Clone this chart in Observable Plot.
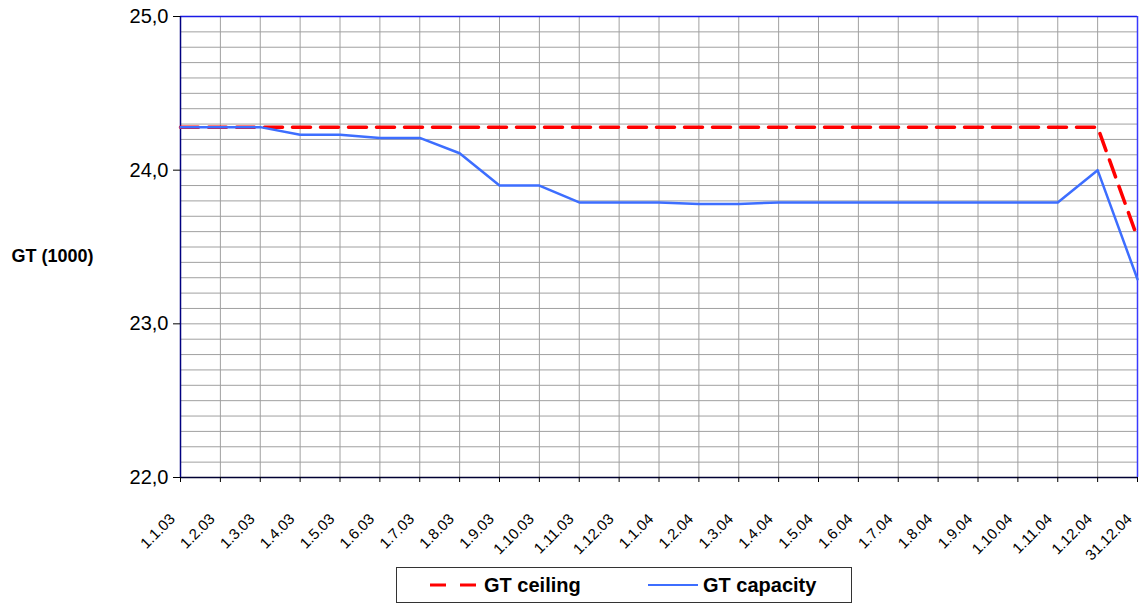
<!DOCTYPE html>
<html>
<head>
<meta charset="utf-8">
<script src="https://cdn.jsdelivr.net/npm/d3@7"></script>
<script src="https://cdn.jsdelivr.net/npm/@observablehq/plot@0.6"></script>
<style>
  html, body { margin: 0; background: #fff; overflow: hidden; font-family: "Liberation Sans", Arial, sans-serif; }
  #chart { width: 1148px; height: 604px; position: relative; }
  #chart > svg { position: absolute; left: 0; top: 0; max-width: none !important; overflow: visible; }
  .legend { position: absolute; left: 396px; top: 567px; width: 456px; height: 36px; border: 1px solid #333; box-sizing: border-box; font-weight: bold; font-size: 20px; color: #000; background: #fff; }
  .item { display: flex; align-items: center; position: absolute; top: 5px; height: 24px; }
  .item svg { display: block; }
</style>
</head>
<body>
<div id="chart"></div>
<script>
const dates = ["1.1.03","1.2.03","1.3.03","1.4.03","1.5.03","1.6.03","1.7.03","1.8.03","1.9.03","1.10.03","1.11.03","1.12.03","1.1.04","1.2.04","1.3.04","1.4.04","1.5.04","1.6.04","1.7.04","1.8.04","1.9.04","1.10.04","1.11.04","1.12.04","31.12.04"];
const ceiling = [24.28,24.28,24.28,24.28,24.28,24.28,24.28,24.28,24.28,24.28,24.28,24.28,24.28,24.28,24.28,24.28,24.28,24.28,24.28,24.28,24.28,24.28,24.28,24.28,23.56];
const capacity = [24.28,24.28,24.28,24.23,24.23,24.21,24.21,24.11,23.9,23.9,23.79,23.79,23.79,23.78,23.78,23.79,23.79,23.79,23.79,23.79,23.79,23.79,23.79,24.0,23.29];
const yMajor = [22, 23, 24, 25];
const yMinor = d3.range(220, 251).map(v => v / 10);
const idx = dates.map((d, i) => i);

const ceilData = dates.map((d, i) => ({i, date: d, value: ceiling[i]}));
const capData = dates.map((d, i) => ({i, date: d, value: capacity[i]}));

const plot = Plot.plot({
  width: 1148,
  height: 604,
  marginTop: 16,
  marginBottom: 127,
  marginLeft: 180,
  marginRight: 11,
  style: {fontFamily: "Liberation Sans, Arial, sans-serif", color: "#000", background: "#fff", overflow: "visible"},
  x: {domain: [0, dates.length - 1]},
  y: {domain: [22, 25]},
  marks: [
    Plot.ruleY(yMinor, {stroke: "#a0a0a0", strokeWidth: 1, strokeOpacity: 1}),
    Plot.ruleX(idx, {stroke: "#a0a0a0", strokeWidth: 1, strokeOpacity: 1}),
    Plot.ruleY([25], {stroke: "#1a1ae6", strokeWidth: 1.5}),
    Plot.ruleY([22], {stroke: "#000033", strokeWidth: 1.5}),
    Plot.ruleX([0], {stroke: "#000080", strokeWidth: 1.5}),
    Plot.ruleX([dates.length - 1], {stroke: "#3a3aff", strokeWidth: 1.5}),
    Plot.axisY(yMajor, {tickFormat: d => d.toFixed(1).replace(".", ","), fontSize: 20, tickSize: 7, tickPadding: 5, label: null}),
    Plot.axisX(idx, {tickFormat: () => "", tickSize: 5, label: null}),
    Plot.axisX(idx, {tickFormat: i => dates[i], tickRotate: -45, fontSize: 15, tickSize: 0, tickPadding: 22, dx: -8, dy: 17, label: null}),
    Plot.line(ceilData, {x: "i", y: "value", stroke: "#ff0000", strokeWidth: 3.5, strokeDasharray: "18,10"}),
    Plot.line(capData, {x: "i", y: "value", stroke: "#3d6eff", strokeWidth: 2.5}),
    Plot.text(["GT (1000)"], {frameAnchor: "left", dx: -169, dy: 9, text: d => d, fontWeight: "bold", fontSize: 18, textAnchor: "start"})
  ]
});
const chart = document.getElementById("chart");
chart.appendChild(plot);

const legend = document.createElement("div");
legend.className = "legend";
legend.innerHTML = `
  <div class="item" style="left:33px"><svg width="48" height="6"><line x1="0" y1="3" x2="48" y2="3" stroke="#ff0000" stroke-width="3" stroke-dasharray="16,14"/></svg><span style="margin-left:6px">GT ceiling</span></div>
  <div class="item" style="left:251px"><svg width="50" height="6"><line x1="0" y1="3" x2="50" y2="3" stroke="#3d6eff" stroke-width="2"/></svg><span style="margin-left:5px">GT capacity</span></div>`;
chart.appendChild(legend);
</script>
</body>
</html>
